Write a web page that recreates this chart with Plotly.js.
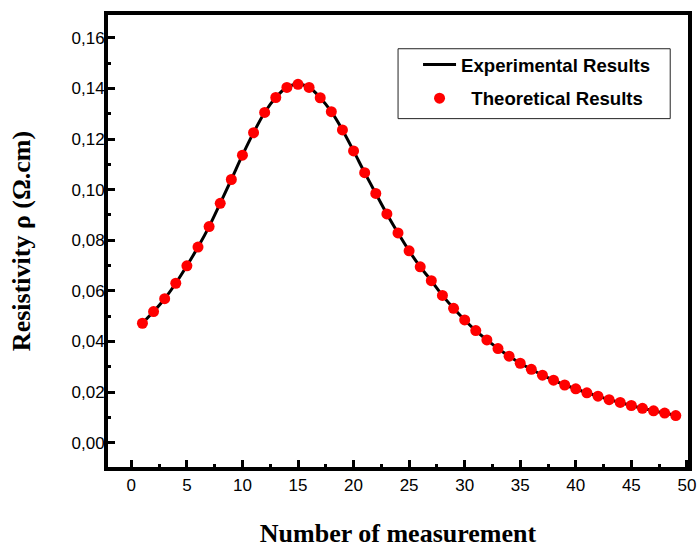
<!DOCTYPE html>
<html>
<head>
<meta charset="utf-8">
<script src="https://cdn.plot.ly/plotly-3.0.1.min.js"></script>
<style>
  html, body { margin: 0; padding: 0; background: #ffffff; }
  #chart { width: 697px; height: 548px; }
</style>
</head>
<body>
<div id="chart"></div>
<script>
// ---- data ----
var measurementNumbers = [1,2,3,4,5,6,7,8,9,10,11,12,13,14,15,16,17,18,19,20,21,22,23,24,25,26,27,28,29,30,31,32,33,34,35,36,37,38,39,40,41,42,43,44,45,46,47,48,49];

var experimentalResistivity = [0.0472,0.0518,0.0569,0.0630,0.0699,0.0773,0.0854,0.0946,0.1040,0.1136,
  0.1225,0.1305,0.1364,0.1404,0.1416,0.1404,0.1363,0.1308,0.1236,0.1153,
  0.1067,0.0985,0.0904,0.0829,0.0758,0.0695,0.0640,0.0582,0.0531,0.0485,
  0.0443,0.0406,0.0372,0.0342,0.0314,0.0290,0.0267,0.0247,0.0228,0.0213,
  0.0197,0.0184,0.0170,0.0159,0.0147,0.0136,0.0126,0.0117,0.0107];

var theoreticalResistivity = [0.0472,0.0518,0.0569,0.0630,0.0699,0.0773,0.0854,0.0946,0.1040,0.1136,
  0.1225,0.1305,0.1364,0.1404,0.1416,0.1404,0.1363,0.1308,0.1236,0.1153,
  0.1067,0.0985,0.0904,0.0829,0.0758,0.0695,0.0640,0.0582,0.0531,0.0485,
  0.0443,0.0406,0.0372,0.0342,0.0314,0.0290,0.0267,0.0247,0.0228,0.0213,
  0.0197,0.0184,0.0170,0.0159,0.0147,0.0136,0.0126,0.0117,0.0107];

var seriesNames = ["Experimental Results", "\u00a0\u00a0Theoretical Results"];
var xTitle = "Number of measurement";
var yTitle = "Resistivity \u03c1 (\u03a9.cm)";

// ---- layout geometry ----
var W = 697, H = 548;
var mL = 108, mR = 8.5, mT = 14.5, mB = 80.8;
var pw = W - mL - mR, ph = H - mT - mB;
function px2paperX(px) { return (px - mL) / pw; }
function px2paperY(py) { return 1 - (py - mT) / ph; }

var tickFont = { family: "Liberation Sans, Arial, sans-serif", size: 17, color: "#000000" };
var titleFont = { family: "Liberation Serif, Times New Roman, serif", size: 26, color: "#000000", weight: "bold" };

var traces = [
  {
    x: measurementNumbers,
    y: experimentalResistivity,
    name: seriesNames[0],
    type: "scatter",
    mode: "lines",
    line: { color: "#000000", width: 3, shape: "spline" },
    legendgroup: "a",
    hoverinfo: "skip"
  },
  {
    x: measurementNumbers,
    y: theoreticalResistivity,
    name: seriesNames[1],
    type: "scatter",
    mode: "markers",
    marker: { color: "#ff0000", size: 11, line: { width: 0 } },
    legendgroup: "b",
    hoverinfo: "skip"
  }
];

var layout = {
  width: W, height: H,
  margin: { l: mL, r: mR, t: mT, b: mB, pad: 0 },
  paper_bgcolor: "#ffffff",
  plot_bgcolor: "#ffffff",
  separators: ",.",
  showlegend: true,
  legend: {
    x: px2paperX(418.3), y: px2paperY(45.5),
    xanchor: "left", yanchor: "top",
    bgcolor: "rgba(0,0,0,0)",
    borderwidth: 0,
    itemwidth: 33,
    tracegroupgap: 6.5,
    font: { family: "Liberation Sans, Arial, sans-serif", size: 18.6, color: "#000000", weight: "bold" }
  },
  xaxis: {
    range: [-2.1, 50.1],
    tick0: 0, dtick: 5,
    ticks: "inside", ticklen: 7, tickwidth: 3, tickcolor: "#000000",
    minor: { dtick: 2.5, ticks: "inside", ticklen: 3, tickwidth: 3, tickcolor: "#000000" },
    showline: true, linewidth: 4, linecolor: "#000000", mirror: true,
    showgrid: false, zeroline: false,
    tickfont: tickFont,
    ticklabeloverflow: "allow",
    title: { text: xTitle, font: titleFont, standoff: 33 }
  },
  yaxis: {
    range: [-0.0096, 0.169],
    tick0: 0, dtick: 0.02, tickformat: ".2f",
    ticks: "inside", ticklen: 7, tickwidth: 3, tickcolor: "#000000",
    minor: { dtick: 0.01, ticks: "inside", ticklen: 3, tickwidth: 3, tickcolor: "#000000" },
    showline: true, linewidth: 4, linecolor: "#000000", mirror: true,
    showgrid: false, zeroline: false,
    tickfont: tickFont,
    ticklabelstandoff: -4,
    title: { text: yTitle, font: titleFont, standoff: 34 }
  },
  shapes: [
    {
      type: "rect", xref: "paper", yref: "paper",
      x0: px2paperX(398.3), x1: px2paperX(670.7),
      y0: px2paperY(118.3), y1: px2paperY(48.3),
      line: { color: "#222222", width: 1 },
      fillcolor: "rgba(0,0,0,0)",
      layer: "above"
    }
  ]
};

Plotly.newPlot("chart", traces, layout, { displayModeBar: false, staticPlot: true });
</script>
</body>
</html>
